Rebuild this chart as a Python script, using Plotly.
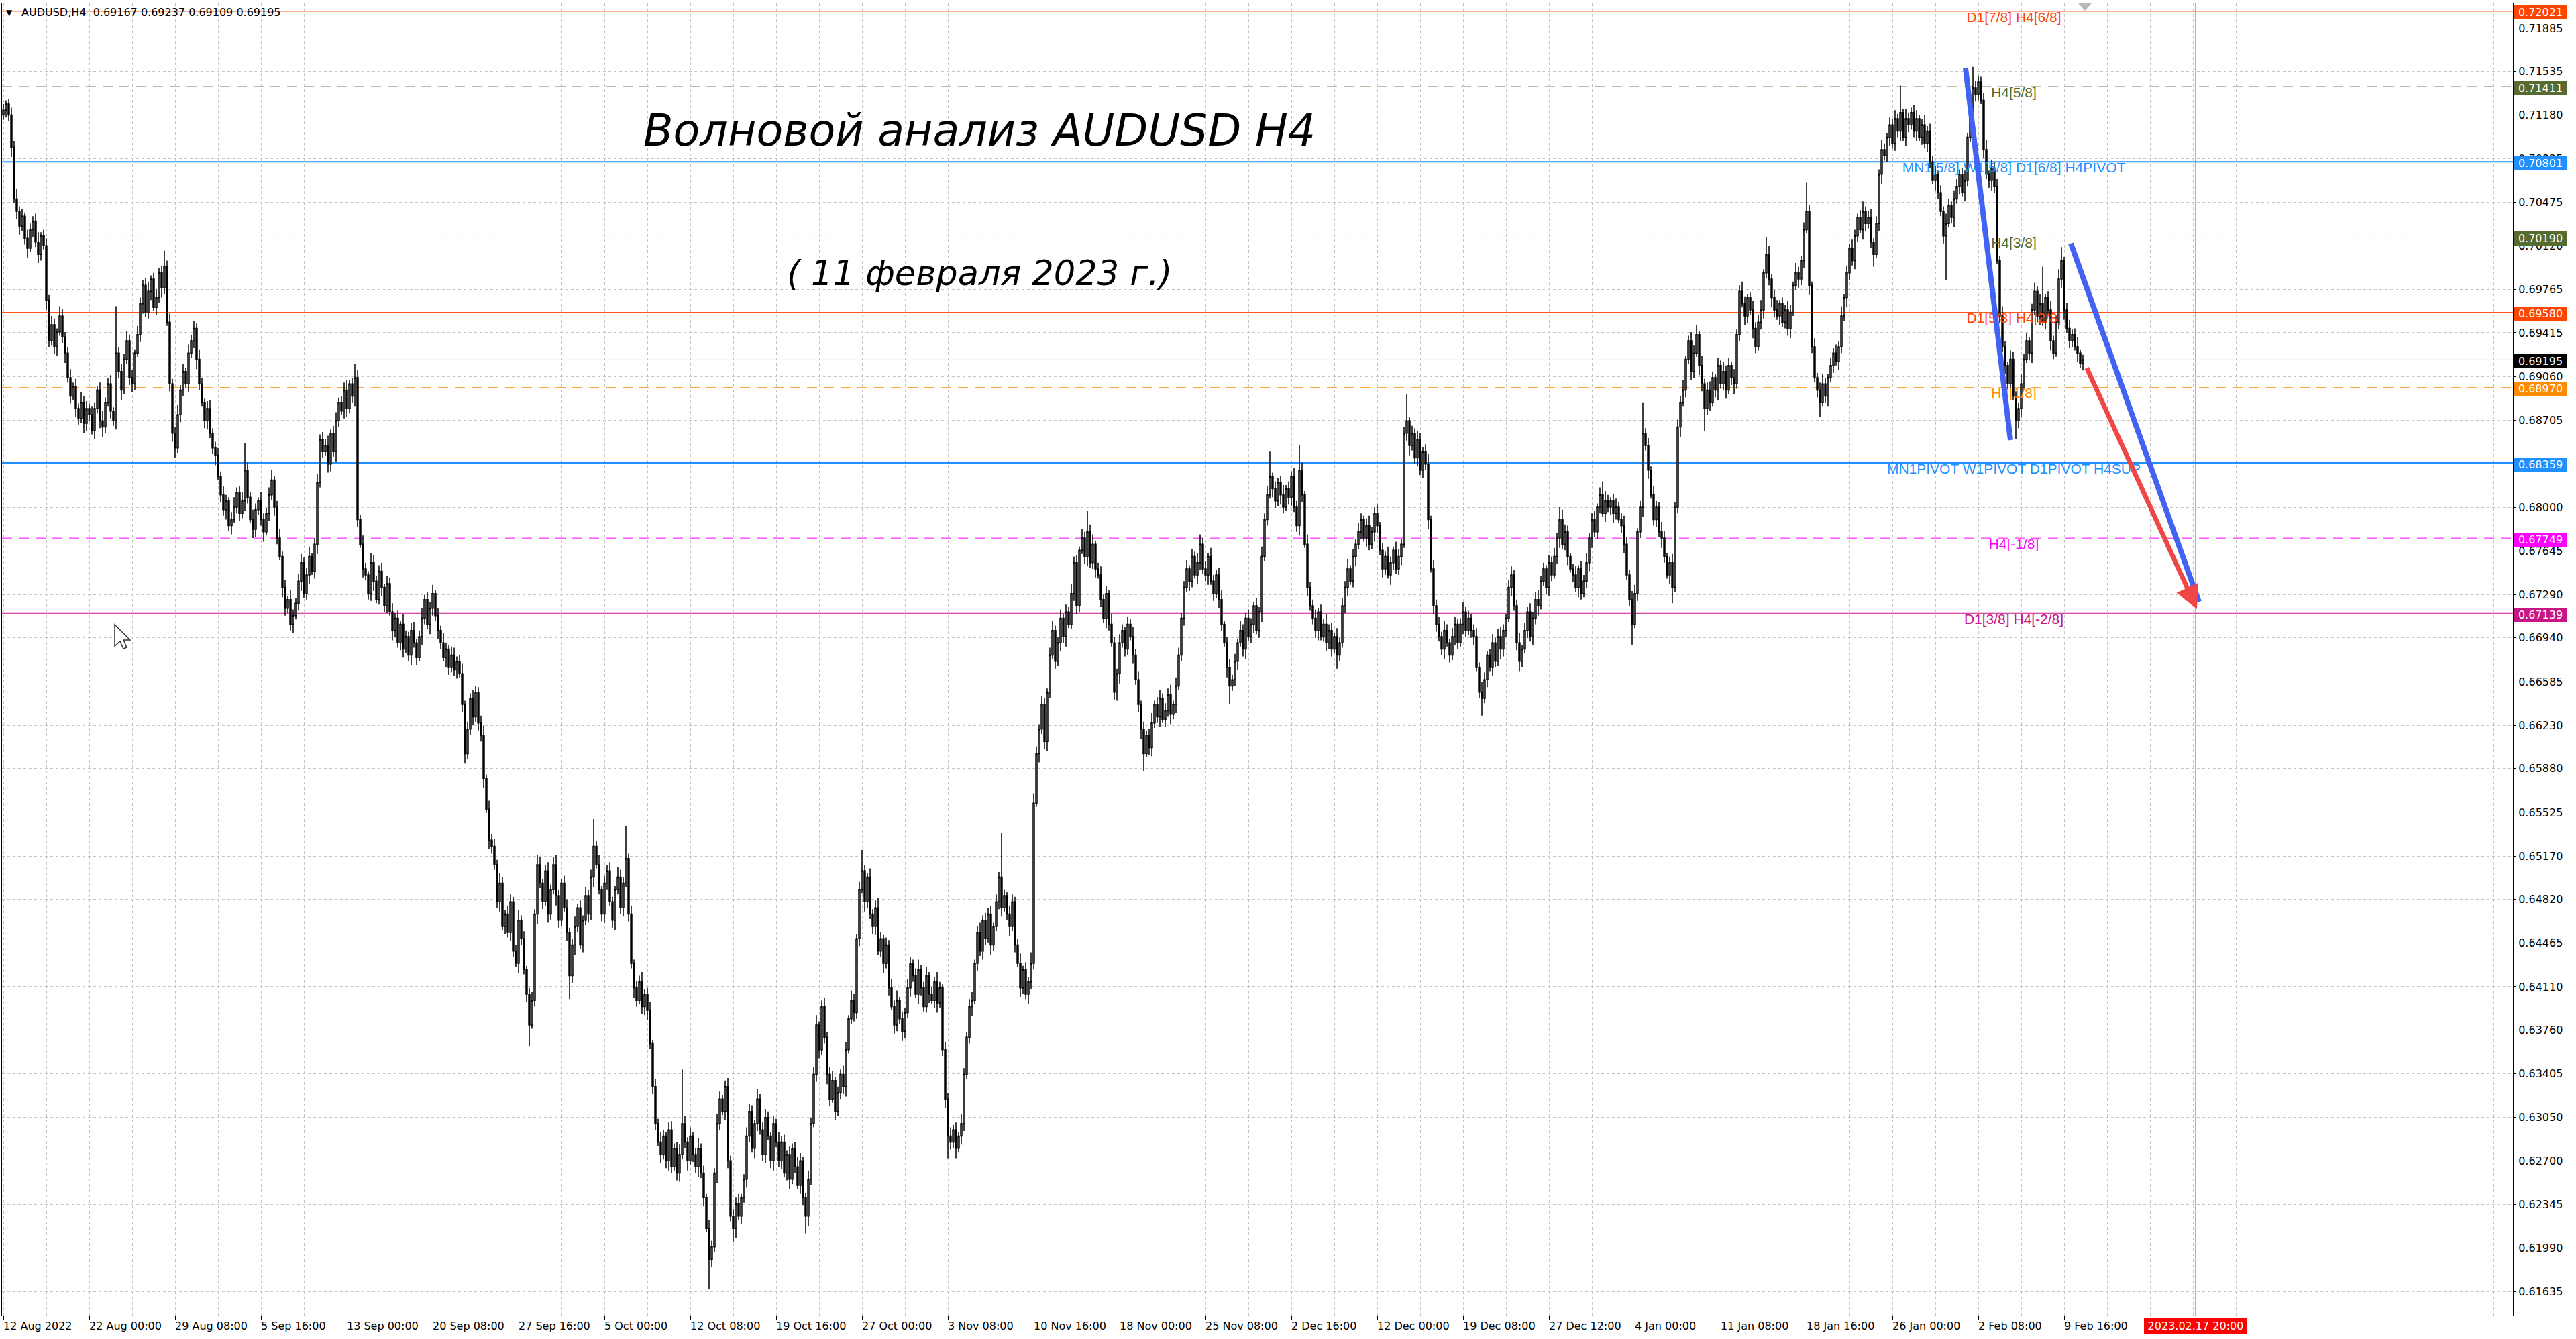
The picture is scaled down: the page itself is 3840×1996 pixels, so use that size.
import plotly.graph_objects as go

# ---------------------------------------------------------------- data
# H4 bars of AUDUSD, bar index 0 = 12 Aug 2022 00:00 (weekends skipped, as on the MT4 chart)
FIRST_BAR = 4
FIRST_OPEN = 7118          # pips (price * 10000)
# closes in pips; the open of each bar is the close of the previous bar
CLOSE_PIPS = [
    7122, 7127, 7118, 7092, 7050, 7040, 7028, 7036, 7018, 7010, 7025, 7032, 7015, 7005, 7020, 7012, 6968, 6935, 6948, 6930, 6942, 6955, 6938, 6925, 6905, 6890, 6898, 6880, 6872, 6885, 6868, 6880,
    6875, 6862, 6880, 6895, 6870, 6865, 6885, 6900, 6878, 6870, 6925, 6910, 6895, 6920, 6935, 6905, 6900, 6925, 6940, 6965, 6980, 6958, 6975, 6985, 6962, 6970, 6990, 6978,
    6995, 6950, 6900, 6860, 6848, 6875, 6895, 6910, 6900, 6925, 6935, 6945, 6920, 6900, 6885, 6870, 6880, 6860, 6848, 6842, 6825, 6810, 6798, 6805, 6785, 6790,
    6800, 6812, 6795, 6805, 6830, 6808, 6790, 6782, 6798, 6805, 6790, 6780, 6795, 6810, 6822, 6800, 6775, 6760, 6735, 6718, 6725, 6705, 6712, 6722, 6740, 6755, 6730, 6745, 6760, 6748, 6770,
    6820, 6855, 6845, 6850, 6835, 6860, 6845, 6870, 6885, 6878, 6895, 6880, 6900, 6890, 6905, 6790, 6770, 6750, 6745, 6730, 6755, 6740, 6725, 6748, 6735, 6720, 6738,
    6715, 6700, 6710, 6690, 6705, 6685, 6695, 6680, 6700, 6690, 6678, 6695, 6710, 6725, 6705, 6718, 6730, 6712, 6700, 6690, 6678, 6685, 6670, 6680, 6668, 6675, 6665,
    6640, 6600, 6620, 6645, 6630, 6650, 6625, 6615, 6580, 6555, 6530, 6525, 6510, 6480, 6495, 6460, 6470, 6455, 6480, 6440, 6430, 6465, 6450, 6425, 6405, 6380, 6400,
    6470, 6510, 6495, 6480, 6505, 6470, 6490, 6510, 6485, 6465, 6495, 6475, 6455, 6420, 6445, 6460, 6475, 6445, 6465, 6485, 6470, 6500, 6525, 6510, 6490, 6470, 6495, 6505, 6480, 6465, 6490, 6500, 6475, 6495, 6515,
    6470, 6430, 6410, 6400, 6415, 6395, 6405, 6392, 6365, 6330, 6300, 6285, 6275, 6290, 6270, 6295, 6265, 6280, 6260, 6275, 6300, 6285, 6270, 6290, 6275, 6265, 6280, 6260, 6240, 6215, 6190, 6200,
    6260, 6300, 6320, 6310, 6330, 6270, 6225, 6215, 6235, 6225, 6240, 6255, 6290, 6310, 6280, 6300, 6320, 6295, 6275, 6305, 6290, 6270, 6300, 6285, 6270, 6285, 6260, 6275, 6255, 6280, 6265, 6250, 6270, 6240, 6225, 6255,
    6300, 6340, 6380, 6360, 6395, 6370, 6340, 6320, 6335, 6310, 6325, 6340, 6330, 6360, 6385, 6400, 6390, 6450, 6490, 6505, 6480, 6500, 6470, 6460, 6475, 6440, 6450, 6430, 6445, 6410, 6395, 6380, 6400, 6385, 6375, 6390,
    6410, 6430, 6420, 6405, 6425, 6410, 6395, 6420, 6405, 6400, 6415, 6398, 6410, 6360, 6320, 6290, 6285, 6295, 6280, 6290, 6300, 6340, 6370, 6395, 6400, 6430, 6455, 6440, 6465, 6450, 6470, 6445, 6460, 6480, 6500, 6475, 6485, 6470, 6460, 6480, 6445, 6430, 6410, 6425, 6405, 6415,
    6430, 6560, 6600, 6620, 6640, 6610, 6650, 6680, 6700, 6675, 6690, 6710, 6695, 6715, 6705, 6730, 6755, 6720, 6765, 6775, 6760, 6780, 6755, 6770, 6750, 6745, 6725, 6710, 6730, 6705, 6690, 6650, 6665, 6690, 6700, 6685, 6705, 6695, 6680, 6660, 6640, 6620, 6600, 6615, 6605,
    6625, 6640, 6630, 6645, 6628, 6635, 6648, 6632, 6640, 6655, 6680, 6710, 6735, 6750, 6740, 6760, 6745, 6755, 6770, 6750, 6745, 6760, 6740, 6730, 6745, 6725, 6705, 6690, 6670, 6655, 6660, 6675, 6690, 6700, 6685, 6710, 6695, 6705, 6720, 6700, 6715, 6760, 6790,
    6810, 6825, 6815, 6805, 6820, 6810, 6800, 6815, 6808, 6825, 6800, 6785, 6830, 6810, 6770, 6735, 6720, 6710, 6700, 6715, 6695, 6705, 6690, 6700, 6685, 6695, 6680, 6690, 6720, 6735, 6750, 6740, 6760, 6770, 6780, 6790, 6775, 6785, 6770, 6780, 6795, 6785, 6765, 6750, 6760, 6745, 6755, 6765, 6750, 6760, 6770,
    6860, 6870, 6850, 6860, 6840, 6855, 6830, 6845, 6835, 6790, 6750, 6720, 6705, 6695, 6685, 6700, 6690, 6680, 6695, 6705, 6690, 6705, 6715, 6700, 6710, 6700, 6695, 6670, 6650, 6645, 6660, 6680, 6670, 6690, 6675, 6695, 6685, 6700, 6710, 6735, 6745, 6720, 6690, 6675, 6685,
    6700, 6715, 6695, 6710, 6725, 6720, 6740, 6750, 6735, 6755, 6745, 6760, 6775, 6790, 6770, 6780, 6760, 6750, 6745, 6735, 6750, 6730, 6740, 6755, 6775, 6790, 6780, 6800, 6810, 6795, 6805, 6800, 6805, 6795, 6800, 6790, 6785, 6770, 6745, 6725, 6705, 6730, 6780, 6800, 6860, 6850, 6830, 6810, 6790, 6800, 6780, 6775, 6760, 6745, 6755, 6735,
    6800, 6865, 6885, 6895, 6920, 6935, 6910, 6925, 6940, 6915, 6900, 6880, 6895, 6885, 6905, 6895, 6915, 6900, 6910, 6895, 6915, 6905, 6900, 6940, 6975, 6965, 6955, 6970, 6960, 6945, 6930, 6950, 6960, 6990, 7005, 6985, 6970, 6960, 6955, 6965, 6950, 6960, 6945, 6958, 6980, 6990, 6985, 7000, 7025, 7040, 6980, 6930, 6905,
    6895, 6885, 6900, 6890, 6905, 6915, 6925, 6918, 6930, 6955, 6970, 6990, 7010, 7000, 7020, 7035, 7025, 7040, 7030, 7035, 7015, 7005, 7030, 7070, 7090, 7085, 7100, 7110, 7095, 7115, 7105, 7120, 7100, 7115, 7110, 7120, 7105, 7115, 7100, 7110, 7095, 7105, 7080, 7065, 7070, 7055, 7040, 7020, 7030, 7045, 7035, 7050, 7060, 7070, 7055, 7065, 7100, 7125, 7140, 7135, 7145, 7130, 7090,
    7070, 7065, 7075, 7060, 7000, 6955, 6930, 6915, 6900, 6920, 6890, 6870, 6880, 6900, 6920, 6935, 6925, 6960, 6975, 6955, 6965, 6950, 6970, 6960, 6935, 6925, 6950, 6985, 7000, 6960, 6945, 6935, 6940, 6930, 6925, 6916.7, 6919.5,
]
# upper wick (above the body) and lower wick (below the body), pips
UPPER_WICK = [
    5, 3, 4, 6, 5, 8, 4, 6, 3, 7, 5, 4, 6, 8, 3, 5,   6, 4, 7, 5, 3, 8, 6, 4, 5, 7, 3, 6, 4, 8, 5, 6,
    4, 7, 5, 3, 6, 8, 4, 5, 7, 3, 38, 5, 6, 4, 8, 5,  6, 3, 7, 5, 4, 6, 8, 3, 5, 7, 4, 6, 13, 5, 7, 4,
    5, 8, 4, 6, 3, 7, 5, 6, 4, 8, 5, 3, 6, 7, 4, 5,   6, 4, 7, 5, 3, 6, 8, 4, 5, 7, 22, 6, 4, 8, 5, 3,
    7, 5, 4, 6, 8, 3, 5, 7, 4, 6, 3, 8, 5, 4, 6, 7,   4, 6, 8, 3, 5, 7, 4, 6, 5, 8, 3, 6, 7, 4, 5, 6,
    8, 3, 5, 11, 6, 4, 7, 5, 3, 8, 6, 4, 5, 7, 3, 6,  5, 7, 4, 6, 3, 8, 5, 4, 6, 7, 3, 5, 8, 4, 6, 5,
    7, 3, 6, 4, 8, 5, 3, 7, 6, 4, 5, 8, 3, 6, 4, 7,   5, 4, 6, 8, 3, 7, 5, 6, 4, 8, 5, 3, 7, 6, 4, 5,
    8, 4, 6, 3, 5, 7, 4, 8, 6, 3, 5, 7, 4, 6, 8, 5,   3, 6, 7, 4, 5, 8, 3, 6, 4, 7, 5, 6, 22, 4, 8, 3,
    6, 5, 7, 4, 3, 8, 6, 5, 26, 4, 7, 3, 6, 5, 8, 4,  5, 7, 3, 6, 4, 8, 5, 3, 6, 7, 4, 5, 8, 44, 6, 4,
    7, 3, 5, 8, 4, 6, 3, 7, 5, 4, 8, 6, 3, 5, 7, 4,   6, 5, 8, 3, 4, 7, 6, 5, 3, 8, 4, 6, 7, 5, 3, 6,
    4, 8, 5, 6, 3, 7, 4, 5, 8, 6, 3, 4, 7, 5, 6, 8,   3, 5, 7, 4, 6, 8, 3, 5, 4, 7, 6, 3, 8, 5, 4, 6,
    17, 5, 3, 7, 4, 6, 8, 5, 3, 6, 4, 7, 5, 8, 3, 6,  4, 7, 5, 3, 6, 8, 4, 5, 7, 3, 6, 4, 8, 5, 3, 6,
    5, 7, 4, 6, 3, 8, 5, 4, 6, 7, 3, 5, 8, 4, 6, 5,   7, 3, 6, 4, 36, 5, 3, 7, 6, 4, 5, 8, 3, 6, 4, 9,
    8, 6, 4, 7, 5, 3, 6, 8, 4, 5, 7, 3, 6, 4, 8, 5,   6, 3, 7, 5, 17, 6, 8, 3, 5, 7, 4, 6, 3, 8, 5, 4,
    7, 5, 3, 6, 4, 8, 5, 7, 3, 6, 4, 5, 8, 3, 6, 7,   4, 6, 5, 8, 3, 7, 6, 4, 5, 7, 3, 6, 4, 8, 8, 5,
    6, 3, 7, 5, 4, 6, 8, 3, 5, 7, 4, 6, 3, 8, 5, 4,   7, 5, 3, 6, 4, 8, 5, 7, 20, 3, 6, 4, 5, 8, 3, 6,
    4, 7, 5, 20, 6, 3, 8, 4, 5, 7, 3, 6, 4, 8, 5, 6,  3, 7, 4, 6, 5, 8, 3, 6, 4, 7, 5, 3, 6, 8, 4, 5,
    7, 3, 6, 4, 8, 5, 3, 7, 6, 4, 5, 22, 3, 6, 4, 7,  5, 4, 6, 8, 3, 7, 5, 6, 4, 8, 5, 3, 7, 6, 4, 5,
    8, 4, 6, 3, 5, 7, 4, 8, 6, 3, 5, 7, 4, 6, 8, 5,   3, 6, 7, 4, 5, 8, 3, 6, 4, 7, 5, 6, 8, 4, 5, 3,
    6, 5, 7, 4, 10, 8, 6, 5, 3, 4, 7, 3, 6, 5, 8, 4,  5, 7, 3, 6, 11, 8, 5, 3, 6, 7, 4, 5, 8, 6, 4, 7,
    7, 3, 5, 25, 4, 6, 3, 7, 5, 4, 8, 6, 3, 5, 7, 4,  6, 5, 8, 3, 4, 7, 6, 8, 3, 8, 4, 6, 7, 5, 3, 6,
    4, 8, 5, 6, 3, 7, 4, 5, 8, 6, 3, 4, 7, 5, 6, 8,   3, 14, 7, 4, 6, 8, 3, 5, 4, 7, 6, 3, 8, 5, 4, 6,
    23, 5, 3, 7, 4, 6, 8, 5, 3, 6, 4, 7, 5, 8, 3, 6,  4, 7, 5, 3, 6, 8, 4, 5, 7, 3, 6, 4, 8, 5, 3, 6,
    5, 7, 4, 22, 3, 8, 5, 4, 6, 7, 3, 5, 8, 4, 6, 5,  7, 3, 6, 4, 8, 5, 3, 7, 6, 4, 5, 8, 3, 6, 17, 6,
    5, 4, 6, 8, 3, 7, 5, 6, 4, 8, 5, 3, 7, 6, 4, 5,   8, 4, 6, 3, 5, 7, 4, 8, 30, 3, 5, 7, 4, 6, 8, 11,
    3, 6, 7, 4, 5, 8, 3, 4.2,
]
LOWER_WICK = [
    4, 6, 5, 8, 3, 6, 7, 4, 5, 8, 3, 6, 4, 7, 5, 3,   8, 5, 4, 6, 7, 3, 5, 8, 4, 6, 3, 7, 5, 4, 8, 6,
    5, 3, 7, 4, 6, 8, 5, 3, 6, 4, 7, 5, 8, 3, 4, 6,   7, 5, 3, 6, 8, 4, 5, 7, 3, 6, 4, 8, 5, 3, 6, 7,
    8, 4, 6, 5, 3, 7, 4, 6, 8, 5, 3, 6, 7, 4, 5, 8,   3, 6, 5, 8, 4, 7, 3, 5, 6, 4, 8, 5, 3, 7, 6, 4,
    5, 8, 3, 6, 4, 7, 5, 3, 8, 6, 4, 5, 7, 3, 6, 8,   4, 5, 7, 3, 6, 8, 4, 5, 3, 7, 6, 4, 8, 5, 3, 6,
    7, 4, 5, 8, 6, 3, 7, 4, 5, 6, 8, 3, 4, 7, 5, 6,   3, 8, 5, 4, 6, 7, 3, 5, 8, 4, 6, 3, 7, 5, 4, 8,
    6, 4, 7, 5, 3, 8, 6, 4, 5, 7, 3, 6, 8, 4, 5, 7,   4, 6, 5, 8, 3, 7, 6, 4, 5, 8, 3, 6, 4, 7, 5, 3,
    8, 5, 4, 6, 17, 3, 5, 8, 4, 6, 3, 7, 5, 4, 8, 6,  5, 3, 7, 19, 6, 8, 5, 3, 6, 4, 7, 5, 8, 3, 4, 6,
    7, 5, 3, 6, 8, 4, 5, 7, 3, 6, 4, 8, 5, 3, 6, 7,   8, 4, 6, 5, 3, 7, 4, 6, 8, 5, 3, 6, 7, 4, 5, 8,
    3, 6, 5, 8, 4, 7, 3, 24, 6, 4, 8, 5, 3, 7, 6, 4,  11, 8, 3, 6, 4, 7, 5, 3, 8, 6, 4, 5, 7, 3, 6, 8,
    4, 5, 7, 3, 6, 8, 4, 5, 3, 7, 6, 14, 8, 5, 3, 6,  7, 4, 5, 8, 6, 3, 7, 4, 5, 6, 8, 3, 4, 7, 5, 6,
    3, 8, 5, 4, 6, 7, 3, 5, 8, 4, 6, 3, 7, 5, 4, 8,   6, 4, 7, 5, 3, 8, 6, 4, 5, 7, 3, 6, 8, 4, 5, 7,
    18, 6, 5, 8, 3, 7, 6, 4, 5, 8, 3, 6, 4, 7, 5, 3,  8, 5, 4, 6, 7, 3, 5, 8, 4, 6, 3, 7, 5, 4, 8, 6,
    5, 3, 7, 4, 6, 8, 5, 3, 6, 4, 7, 5, 8, 3, 4, 6,   7, 5, 3, 6, 8, 4, 5, 7, 3, 6, 4, 8, 5, 3, 6, 7,
    8, 4, 6, 5, 3, 7, 4, 6, 8, 14, 3, 6, 7, 4, 5, 8,  3, 6, 5, 8, 4, 7, 3, 5, 6, 4, 8, 5, 3, 7, 6, 4,
    5, 8, 3, 6, 4, 7, 5, 3, 8, 15, 4, 5, 7, 3, 6, 8,  4, 5, 7, 3, 6, 8, 4, 5, 3, 7, 6, 4, 8, 5, 3, 6,
    7, 4, 5, 8, 6, 3, 7, 4, 5, 6, 8, 3, 4, 7, 5, 6,   3, 11, 5, 4, 6, 7, 3, 5, 8, 4, 6, 3, 7, 5, 4, 8,
    6, 4, 7, 5, 3, 8, 6, 4, 5, 7, 3, 6, 8, 4, 5, 7,   4, 6, 5, 8, 3, 7, 6, 4, 5, 8, 3, 6, 4, 7, 5, 3,
    8, 5, 4, 6, 7, 3, 5, 14, 4, 6, 3, 7, 5, 4, 8, 6,  5, 3, 7, 4, 6, 8, 5, 3, 6, 4, 7, 5, 8, 3, 4, 6,
    7, 5, 3, 6, 8, 4, 5, 7, 3, 6, 4, 8, 5, 3, 6, 7,   8, 4, 6, 5, 3, 7, 4, 6, 8, 5, 3, 6, 7, 4, 5, 17,
    3, 6, 5, 8, 4, 7, 3, 5, 6, 4, 8, 5, 3, 7, 13, 4,  5, 8, 3, 6, 4, 7, 5, 3, 8, 6, 18, 5, 7, 3, 6, 8,
    4, 5, 7, 3, 6, 8, 4, 5, 3, 7, 6, 4, 8, 5, 3, 6,   7, 4, 5, 8, 6, 3, 7, 4, 5, 6, 8, 3, 4, 7, 5, 6,
    3, 8, 5, 4, 6, 12, 3, 5, 8, 4, 6, 3, 7, 5, 4, 8,  6, 4, 7, 5, 3, 8, 6, 4, 5, 10, 3, 6, 8, 4, 5, 7,
    4, 6, 5, 8, 3, 7, 6, 4, 5, 8, 3, 6, 4, 7, 5, 3,   8, 5, 4, 6, 36, 3, 5, 8, 4, 6, 3, 7, 5, 4, 8, 6,
    5, 3, 7, 4, 6, 8, 5, 3, 6, 4, 7, 5, 8, 3, 15, 6,  7, 5, 3, 6, 8, 4, 5, 7, 3, 6, 4, 8, 5, 3, 6, 7,
    8, 4, 6, 5, 3, 7, 4, 5.8,
]

X_LABEL_BARS = [4, 36, 68, 100, 132, 164, 196, 228, 260, 292, 324, 356, 388, 420, 452,
                484, 516, 548, 580, 612, 644, 676, 708, 740, 772]
X_LABELS = ["12 Aug 2022", "22 Aug 00:00", "29 Aug 08:00", "5 Sep 16:00", "13 Sep 00:00",
            "20 Sep 08:00", "27 Sep 16:00", "5 Oct 00:00", "12 Oct 08:00", "19 Oct 16:00",
            "27 Oct 00:00", "3 Nov 08:00", "10 Nov 16:00", "18 Nov 00:00", "25 Nov 08:00",
            "2 Dec 16:00", "12 Dec 00:00", "19 Dec 08:00", "27 Dec 12:00", "4 Jan 00:00",
            "11 Jan 08:00", "18 Jan 16:00", "26 Jan 00:00", "2 Feb 08:00", "9 Feb 16:00"]
Y_TICKS = [0.71885, 0.71535, 0.71180, 0.70825, 0.70475, 0.70120, 0.69765, 0.69415, 0.69060,
           0.68705, 0.68350, 0.68000, 0.67645, 0.67290, 0.66940, 0.66585, 0.66230, 0.65880,
           0.65525, 0.65170, 0.64820, 0.64465, 0.64110, 0.63760, 0.63405, 0.63050, 0.62700,
           0.62345, 0.61990, 0.61635]

LEVEL_PRICES = [0.72021, 0.71411, 0.70801, 0.70190, 0.69580, 0.68970, 0.68359, 0.67749, 0.67139]
LEVEL_NAMES = ["D1[7/8] H4[6/8]", "H4[5/8]", "MN1[5/8] W1[5/8] D1[6/8] H4PIVOT", "H4[3/8]",
               "D1[5/8] H4[2/8]", "H4[1/8]", "MN1PIVOT W1PIVOT D1PIVOT H4SUP", "H4[-1/8]",
               "D1[3/8] H4[-2/8]"]
LEVEL_COLORS = ["#FF4500", "#556B2F", "#1E90FF", "#556B2F", "#FF4500", "#FF8C00", "#1E90FF",
                "#FF00FF", "#C71585"]
LEVEL_DASHED = [False, True, False, True, False, True, False, True, False]
LEVEL_WIDTH = [1, 1, 2, 1, 1, 1, 2, 1, 1]
LEVEL_LABEL_BAR = 753.25

BID_PRICE = 0.69195
HEADER = "AUDUSD,H4\u00a0\u00a00.69167 0.69237 0.69109 0.69195"

WAVE_1_BARS, WAVE_1_PRICES = [735.25, 752.0], [0.71559, 0.68544]
WAVE_2_BARS, WAVE_2_PRICES = [774.5, 822.25], [0.70139, 0.67233]
FORECAST_BARS, FORECAST_PRICES = [780.25, 821.5], [0.69137, 0.67173]
CURSOR_BAR, CURSOR_TIME = 821, "2023.02.17 20:00"
SHIFT_BAR = 779.75

TITLE = "Волновой анализ AUDUSD H4"
SUBTITLE = "( 11 февраля 2023 г.)"

# ---------------------------------------------------------------- layout constants
W, H = 3840, 1996
PL, PR, PT, PB = 3, 3746, 5, 1961
X_RANGE = [3.5, 939.25]
Y_RANGE = [0.61444, 0.72086]
AXF = "DejaVu Sans"
LVF = "Liberation Sans, Arial, sans-serif"


def px_x(v):
    return v / W


def px_y(v):
    return 1 - v / H


pip = 0.0001
bars = [FIRST_BAR + i for i in range(len(CLOSE_PIPS))]
opens_p = [FIRST_OPEN] + CLOSE_PIPS[:-1]
o = [v * pip for v in opens_p]
c = [v * pip for v in CLOSE_PIPS]
h = [(max(a, b) + u) * pip for a, b, u in zip(opens_p, CLOSE_PIPS, UPPER_WICK)]
l = [(min(a, b) - d) * pip for a, b, d in zip(opens_p, CLOSE_PIPS, LOWER_WICK)]

fig = go.Figure()

# level captions (drawn under the candles)
fig.add_trace(go.Scatter(
    x=[LEVEL_LABEL_BAR] * len(LEVEL_PRICES), y=LEVEL_PRICES, text=LEVEL_NAMES,
    mode="text", textposition="bottom center",
    textfont=dict(family=LVF, size=21, color=LEVEL_COLORS), hoverinfo="skip"))

# blue wave lines
for bx, by in ((WAVE_1_BARS, WAVE_1_PRICES), (WAVE_2_BARS, WAVE_2_PRICES)):
    fig.add_trace(go.Scatter(x=bx, y=by, mode="lines",
                             line=dict(color="#4262F2", width=8), hoverinfo="skip"))

fig.add_trace(go.Candlestick(
    x=bars, open=o, high=h, low=l, close=c,
    increasing=dict(line=dict(color="black", width=1.5), fillcolor="white"),
    decreasing=dict(line=dict(color="black", width=1.5), fillcolor="black"),
    whiskerwidth=0, hoverinfo="skip"))

shapes = []
for p, col, dsh, wd in zip(LEVEL_PRICES, LEVEL_COLORS, LEVEL_DASHED, LEVEL_WIDTH):
    shapes.append(dict(type="line", xref="x domain", x0=0, x1=1, yref="y", y0=p, y1=p,
                       layer="below",
                       line=dict(color=col, width=wd, dash="15px,10px" if dsh else "solid")))
shapes.append(dict(type="line", xref="x domain", x0=0, x1=1, yref="y", y0=BID_PRICE,
                   y1=BID_PRICE, layer="below", line=dict(color="#C0C0C0", width=1)))
shapes.append(dict(type="line", xref="x", x0=CURSOR_BAR, x1=CURSOR_BAR, yref="y domain",
                   y0=0, y1=1, layer="below", line=dict(color="#FF2020", width=1)))
# MT4 shift marker
shapes.append(dict(type="path", xref="x", yref="paper",
                   path=f"M {SHIFT_BAR-2.5} {px_y(5)} L {SHIFT_BAR+2.5} {px_y(5)} L {SHIFT_BAR} {px_y(16)} Z",
                   fillcolor="#B8B8B8", line=dict(width=0)))
# mouse cursor
cur = [(0, 0), (0, 32), (8, 25), (13, 36), (18, 34), (13, 23), (23, 23)]
cx0, cy0 = 171, 931
path = "M " + " L ".join(f"{px_x(cx0+a)} {px_y(cy0+b)}" for a, b in cur) + " Z"
shapes.append(dict(type="path", xref="paper", yref="paper", path=path,
                   fillcolor="white", line=dict(color="#333333", width=1.5)))

ann = []
# price boxes on the right scale
for p, col in list(zip(LEVEL_PRICES, LEVEL_COLORS)) + [(BID_PRICE, "#000000")]:
    ann.append(dict(xref="paper", x=px_x(3748), xanchor="left", yref="y", y=p,
                    yanchor="middle", yshift=-2, text=f"{p:.5f}", showarrow=False,
                    bgcolor=col, width=76, height=19, borderpad=1, borderwidth=0,
                    font=dict(family=AXF, size=16, color="white")))
# time labels
for b, t in zip(X_LABEL_BARS, X_LABELS):
    ann.append(dict(xref="x", x=b, xanchor="left", xshift=-2, yref="paper", y=px_y(1976),
                    yanchor="middle", text=t, showarrow=False,
                    font=dict(family=AXF, size=16, color="black")))
ann.append(dict(xref="x", x=CURSOR_BAR, xanchor="center", yref="paper", y=px_y(1976),
                yanchor="middle", text=CURSOR_TIME, showarrow=False, bgcolor="#FF0000",
                width=150, height=20, borderpad=2, borderwidth=0,
                font=dict(family=AXF, size=16, color="white")))
# red forecast arrow
ann.append(dict(xref="x", yref="y", x=FORECAST_BARS[1], y=FORECAST_PRICES[1],
                axref="x", ayref="y", ax=FORECAST_BARS[0], ay=FORECAST_PRICES[0],
                showarrow=True, arrowhead=2, arrowsize=1.0, arrowwidth=7,
                arrowcolor="#F04646", standoff=0, text=""))
# header
ann.append(dict(xref="paper", yref="paper", x=px_x(14), y=px_y(19), xanchor="center",
                yanchor="middle", text="▼", showarrow=False,
                font=dict(family=AXF, size=12, color="black")))
ann.append(dict(xref="paper", yref="paper", x=px_x(30), y=px_y(19), xanchor="left",
                yanchor="middle", text=HEADER, showarrow=False,
                font=dict(family=AXF, size=16, color="black")))
# titles
ann.append(dict(xref="paper", yref="paper", x=px_x(1460), y=px_y(194), xanchor="center",
                yanchor="middle", text=TITLE, showarrow=False,
                font=dict(family="DejaVu Sans", size=65, color="black", style="italic")))
ann.append(dict(xref="paper", yref="paper", x=px_x(1460), y=px_y(408), xanchor="center",
                yanchor="middle", text=SUBTITLE, showarrow=False,
                font=dict(family="DejaVu Sans", size=51, color="black", style="italic")))

grid = dict(showgrid=True, gridcolor="#C4C4C4", gridwidth=1, griddash="4px,4px")
minor_vals = [4 + 16 * k for k in range(59)]

fig.update_layout(
    template="none", width=W, height=H, margin=dict(l=0, r=0, t=0, b=0),
    paper_bgcolor="white", plot_bgcolor="white", showlegend=False,
    shapes=shapes, annotations=ann, hovermode=False,
    xaxis=dict(domain=[px_x(PL), px_x(PR)], range=X_RANGE, type="linear",
               tickmode="array", tickvals=X_LABEL_BARS, showticklabels=False,
               ticks="outside", ticklen=6, tickcolor="black", tickwidth=1,
               showline=True, mirror=True, linecolor="black", linewidth=1,
               zeroline=False, automargin=False, rangeslider=dict(visible=False),
               minor=dict(tickmode="array", tickvals=minor_vals, ticks="",
                          showgrid=True, gridcolor="#C4C4C4", griddash="4px,4px"),
               fixedrange=True, **grid),
    yaxis=dict(domain=[px_y(PB), px_y(PT)], range=Y_RANGE, side="right",
               tickmode="array", tickvals=Y_TICKS, ticktext=[f"{v:.5f}" for v in Y_TICKS],
               ticks="outside", ticklen=4, tickcolor="black",
               tickfont=dict(family=AXF, size=16, color="black"),
               showline=True, mirror=True, linecolor="black", linewidth=1,
               zeroline=False, automargin=False, fixedrange=True, **grid),
)

fig.write_html("out.html", config={"displayModeBar": False},
               post_script="document.body.style.margin='0';document.body.style.overflow='hidden';")
